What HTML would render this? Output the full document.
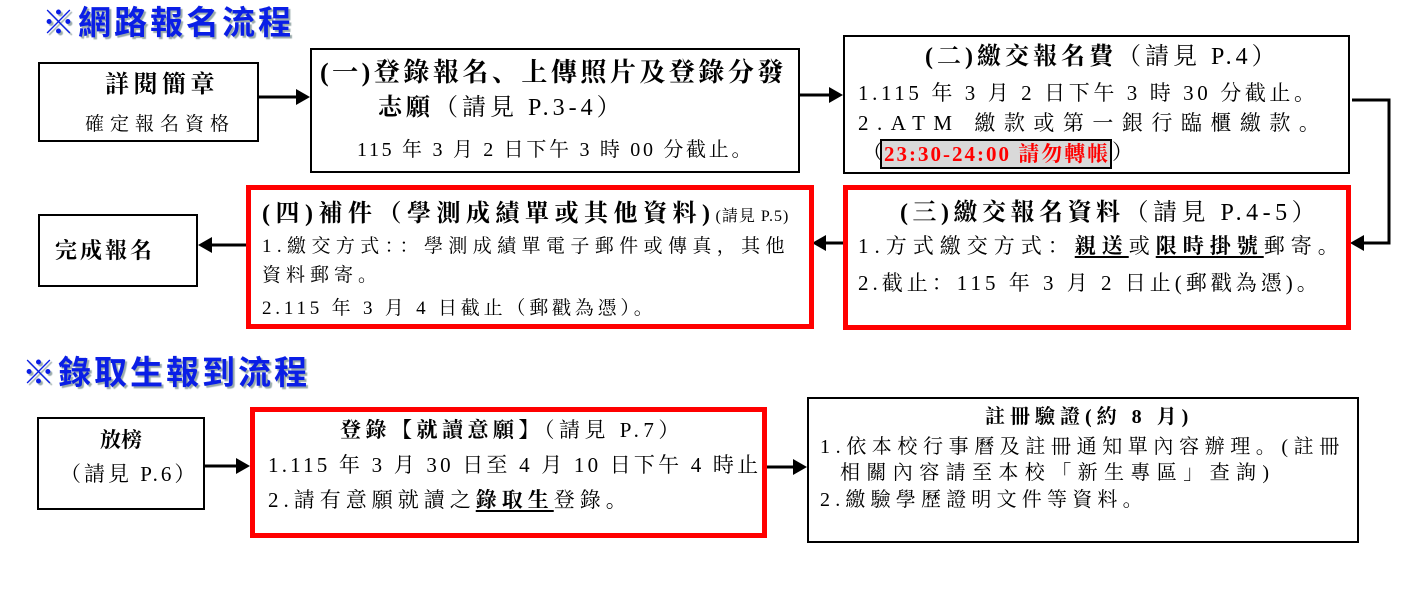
<!DOCTYPE html>
<html><head><meta charset="utf-8"><style>
body{margin:0;width:1419px;height:599px;background:#fff;position:relative;overflow:hidden;font-family:"Liberation Serif","Noto Serif CJK SC",serif;color:#000}
.t{position:absolute;white-space:nowrap;line-height:1}
.b{position:absolute;box-sizing:border-box;border:2px solid #000;background:#fff}
.r{position:absolute;box-sizing:border-box;border:5px solid #f00;background:#fff}
.h{position:absolute;font-family:"Liberation Sans","Noto Sans CJK SC",sans-serif;font-weight:bold;color:#0a1ee6;font-size:33px;letter-spacing:3px;line-height:1;text-shadow:2px 2px 1px #9aa;white-space:nowrap}
b{font-weight:bold}
u{text-underline-offset:3px;text-decoration-thickness:2px}
</style></head><body>
<div class="h" style="left:42px;top:6px">※網路報名流程</div>
<div class="h" style="left:22px;top:356px">※錄取生報到流程</div>

<svg width="1419" height="599" style="position:absolute;left:0;top:0">
<g stroke="#000" stroke-width="3" fill="none">
<line x1="258" y1="97" x2="298" y2="97"/>
<line x1="799" y1="95" x2="832" y2="95"/>
<polyline points="1352,100 1389,100 1389,243 1362,243"/>
<line x1="843" y1="243" x2="822" y2="243"/>
<line x1="246" y1="245" x2="210" y2="245"/>
<line x1="204" y1="466" x2="238" y2="466"/>
<line x1="766" y1="467" x2="796" y2="467"/>
</g>
<g fill="#000">
<polygon points="310,97 296,89 296,105"/>
<polygon points="843,95 829,87 829,103"/>
<polygon points="1350,243 1364,235 1364,251"/>
<polygon points="812,243 826,235 826,251"/>
<polygon points="198,245 212,237 212,253"/>
<polygon points="250,466 236,458 236,474"/>
<polygon points="807,467 793,459 793,475"/>
</g>
</svg>

<div class="b" style="left:38px;top:62px;width:221px;height:80px"></div>
<div class="t" style="left:105px;top:73px;font-size:24px;font-weight:bold;letter-spacing:4.5px">詳閱簡章</div>
<div class="t" style="left:85px;top:115px;font-size:19px;letter-spacing:6px">確定報名資格</div>

<div class="b" style="left:310px;top:48px;width:490px;height:125px"></div>
<div class="t" style="left:320px;top:60px;font-size:26px;font-weight:bold;letter-spacing:3.5px">(一)登錄報名、上傳照片及登錄分發</div>
<div class="t" style="left:378px;top:96px;font-size:24px;letter-spacing:4px"><b>志願</b>（請見 P.3-4）</div>
<div class="t" style="left:357px;top:140px;font-size:20px;letter-spacing:2.7px">115 年 3 月 2 日下午 3 時 00 分截止。</div>

<div class="b" style="left:843px;top:35px;width:507px;height:139px"></div>
<div class="t" style="left:925px;top:45px;font-size:24px;letter-spacing:4px"><b>(二)繳交報名費</b>（請見 P.4）</div>
<div class="t" style="left:858px;top:83px;font-size:21px;letter-spacing:3.6px">1.115 年 3 月 2 日下午 3 時 30 分截止。</div>
<div class="t" style="left:858px;top:113px;font-size:21px;letter-spacing:8.5px">2.ATM 繳款或第一銀行臨櫃繳款。</div>
<div class="t" style="left:862px;top:142px;font-size:21px">（</div>
<div style="position:absolute;left:880px;top:139px;width:232px;height:30px;box-sizing:border-box;border:2px solid #000;background:#d9d9d9"></div>
<div class="t" style="left:884px;top:144px;font-size:21px;font-weight:bold;color:#f00;letter-spacing:2px">23:30-24:00 請勿轉帳</div>
<div class="t" style="left:1112px;top:142px;font-size:21px">）</div>

<div class="r" style="left:843px;top:185px;width:508px;height:145px"></div>
<div class="t" style="left:900px;top:201px;font-size:24px;letter-spacing:4.5px"><b>(三)繳交報名資料</b>（請見 P.4-5）</div>
<div class="t" style="left:858px;top:236px;font-size:21px;letter-spacing:6px">1.方式繳交方式：<b><u>親送</u></b>或<b><u>限時掛號</u></b>郵寄。</div>
<div class="t" style="left:858px;top:273px;font-size:21px;letter-spacing:4px">2.截止：115 年 3 月 2 日止(郵戳為憑)。</div>

<div class="r" style="left:246px;top:185px;width:568px;height:144px"></div>
<div class="t" style="left:262px;top:202px;font-size:24px;letter-spacing:5.5px"><b>(四)補件（學測成績單或其他資料)</b><span style="font-size:16px;letter-spacing:1px">(請見 P.5)</span></div>
<div class="t" style="left:262px;top:237px;font-size:19px;letter-spacing:5.4px">1.繳交方式：：學測成績單電子郵件或傳真，其他</div>
<div class="t" style="left:262px;top:266px;font-size:19px;letter-spacing:5px">資料郵寄。</div>
<div class="t" style="left:262px;top:299px;font-size:19px;letter-spacing:3.8px">2.115 年 3 月 4 日截止（郵戳為憑）。</div>

<div class="b" style="left:38px;top:214px;width:160px;height:73px"></div>
<div class="t" style="left:55px;top:240px;font-size:22px;font-weight:bold;letter-spacing:3px">完成報名</div>

<div class="b" style="left:37px;top:417px;width:168px;height:93px"></div>
<div class="t" style="left:37px;width:168px;text-align:center;top:430px;font-size:21px;font-weight:bold">放榜</div>
<div class="t" style="left:60px;top:464px;font-size:21px;letter-spacing:3px">（請見 P.6）</div>

<div class="r" style="left:250px;top:407px;width:517px;height:131px"></div>
<div class="t" style="left:340px;top:420px;font-size:21px;letter-spacing:4.5px"><b>登錄【就讀意願】</b>（請見 P.7）</div>
<div class="t" style="left:268px;top:455px;font-size:21px;letter-spacing:3.2px">1.115 年 3 月 30 日至 4 月 10 日下午 4 時止</div>
<div class="t" style="left:268px;top:490px;font-size:21px;letter-spacing:5px">2.請有意願就讀之<b><u>錄取生</u></b>登錄。</div>

<div class="b" style="left:807px;top:397px;width:552px;height:146px"></div>
<div class="t" style="left:985px;top:407px;font-size:20px;font-weight:bold;letter-spacing:5px">註冊驗證(約 8 月)</div>
<div class="t" style="left:820px;top:437px;font-size:20px;letter-spacing:5.6px">1.依本校行事曆及註冊通知單內容辦理。(註冊</div>
<div class="t" style="left:840px;top:463px;font-size:20px;letter-spacing:6.4px">相關內容請至本校「新生專區」查詢)</div>
<div class="t" style="left:820px;top:490px;font-size:20px;letter-spacing:5.2px">2.繳驗學歷證明文件等資料。</div>
</body></html>
